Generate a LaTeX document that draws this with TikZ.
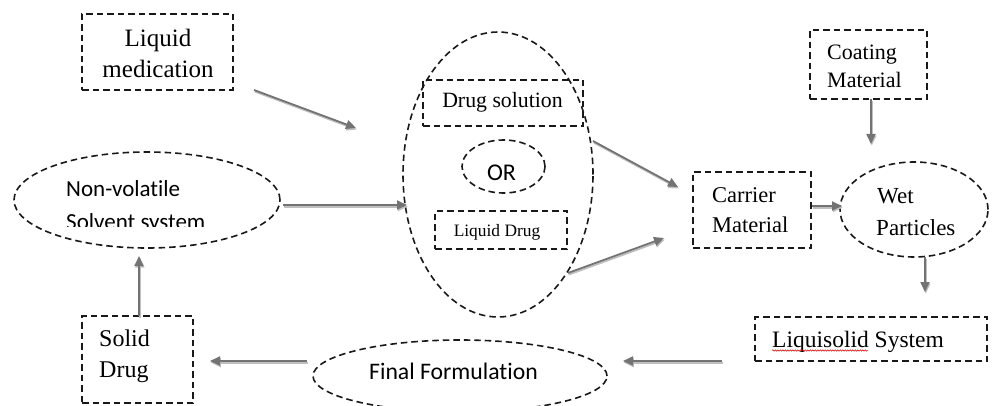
\documentclass[tikz,border=0pt]{standalone}
\usepackage{fontspec}
\setmainfont{Liberation Serif}
\newfontfamily\calfont[Ligatures=NoCommon]{Carlito}
\usetikzlibrary{shapes.geometric,arrows.meta,decorations.pathmorphing}
\begin{document}
\begin{tikzpicture}[x=1pt,y=-1pt,
  dsh/.style={draw=black!90, line width=1.6pt, dash pattern=on 6.5pt off 4pt, inner sep=0pt},
  boxn/.style={dsh, rectangle},
  ell/.style={dsh, ellipse},
  txt/.style={inner sep=0pt, anchor=base west},
  txtc/.style={inner sep=0pt, anchor=base},
  arr/.style={draw=black!55, line width=1.8pt,
    -{Triangle[length=10pt,width=9pt]},
    preaction={draw=black!25, line width=1.8pt, -{Triangle[length=10pt,width=9pt]},
      transform canvas={shift={(0.8pt,-1.6pt)}}}}
]
\useasboundingbox (0,0) rectangle (992,406);

% shapes
\node[boxn, minimum width=151pt, minimum height=76pt] (lm) at (157.5,52) {};
\node[ell, minimum width=266pt, minimum height=96pt] (nv) at (147,200) {};
\node[ell, minimum width=190pt, minimum height=285pt] (big) at (498,174.5) {};
\node[boxn, minimum width=160pt, minimum height=46pt] (ds) at (503,103) {};
\node[ell, minimum width=83pt, minimum height=53pt] (or) at (503.5,166.5) {};
\node[boxn, minimum width=132pt, minimum height=38pt] (ld) at (501,230) {};
\node[boxn, minimum width=118pt, minimum height=76pt] (cm) at (752,210) {};
\node[boxn, minimum width=117pt, minimum height=69pt] (co) at (868.5,64.5) {};
\node[ell, minimum width=148pt, minimum height=95pt] (wp) at (914,209.5) {};
\node[boxn, minimum width=232pt, minimum height=44pt] (ls) at (871,339) {};
\node[boxn, minimum width=111pt, minimum height=87pt] (sd) at (137.5,359.5) {};
\node[ell, minimum width=294pt, minimum height=72pt] (ff) at (460,376) {};

% texts
\node[txtc, font=\fontsize{25}{29}\selectfont] (t1) at (158,47) {Liquid};
\node[txtc, font=\fontsize{25}{29}\selectfont] (t2) at (158,78) {medication};
\node[txt, font=\calfont\fontsize{23}{27}\selectfont] (t3) at (66,196) {Non-volatile};
\begin{scope}
  \clip (0,150) rectangle (300,226.5);
  \node[txt, font=\calfont\fontsize{23}{27}\selectfont] (t4) at (66,229.5) {Solvent system};
\end{scope}
\node[txtc, font=\fontsize{21.8}{26}\selectfont] (t5) at (502.5,108) {Drug solution};
\node[txtc, font=\calfont\fontsize{24}{28}\selectfont] (t6) at (501.5,180) {OR};
\node[txtc, font=\fontsize{17.4}{21}\selectfont] (t7) at (497,236) {Liquid Drug};
\node[txt, font=\fontsize{22.5}{26}\selectfont] (t8) at (712,202) {Carrier};
\node[txt, font=\fontsize{22.5}{26}\selectfont] (t9) at (712,232) {Material};
\node[txt, font=\fontsize{22}{26}\selectfont] (t10) at (827,60) {Coating};
\node[txt, font=\fontsize{22}{26}\selectfont] (t11) at (827,88) {Material};
\node[txt, font=\fontsize{23}{27}\selectfont] (t12) at (877,203) {Wet};
\node[txt, font=\fontsize{23}{27}\selectfont] (t13) at (876,235) {Particles};
\node[txt, font=\fontsize{23.5}{28}\selectfont] (t14) at (772,347) {Liquisolid System};
\node[txt, font=\fontsize{24}{28}\selectfont] (t15) at (99,346) {Solid};
\node[txt, font=\fontsize{24}{28}\selectfont] (t16) at (99,377) {Drug};
\node[txtc, font=\calfont\fontsize{23.7}{28}\selectfont] (t17) at (453.5,379) {Final Formulation};

% spell-check underline
\coordinate (u1) at (772,350.5);
\coordinate (u2) at (868,350.5);
\draw[red!85!black, line width=0.5pt, decorate, decoration={snake, amplitude=0.7pt, segment length=2.5pt}] (u1) -- (u2);

% arrow end points
\coordinate (a1s) at (254,90);   \coordinate (a1e) at (356,128);
\coordinate (a2s) at (283,205);  \coordinate (a2e) at (407,205);
\coordinate (a3s) at (593,141);  \coordinate (a3e) at (678,187);
\coordinate (a4s) at (568,273);  \coordinate (a4e) at (664,238);
\coordinate (a5s) at (812,206);  \coordinate (a5e) at (842,206);
\coordinate (a6s) at (871,99);   \coordinate (a6e) at (871,144);
\coordinate (a7s) at (925,257);  \coordinate (a7e) at (925,292);
\coordinate (a8s) at (722,361);  \coordinate (a8e) at (623,361);
\coordinate (a9s) at (307,361);  \coordinate (a9e) at (210,361);
\coordinate (a10s) at (139,316); \coordinate (a10e) at (139,256);

\draw[arr] (a1s) -- (a1e);
\draw[arr] (a2s) -- (a2e);
\draw[arr] (a3s) -- (a3e);
\draw[arr] (a4s) -- (a4e);
\draw[arr] (a5s) -- (a5e);
\draw[arr] (a6s) -- (a6e);
\draw[arr] (a7s) -- (a7e);
\draw[arr] (a8s) -- (a8e);
\draw[arr] (a9s) -- (a9e);
\draw[arr] (a10s) -- (a10e);
\end{tikzpicture}
\end{document}
